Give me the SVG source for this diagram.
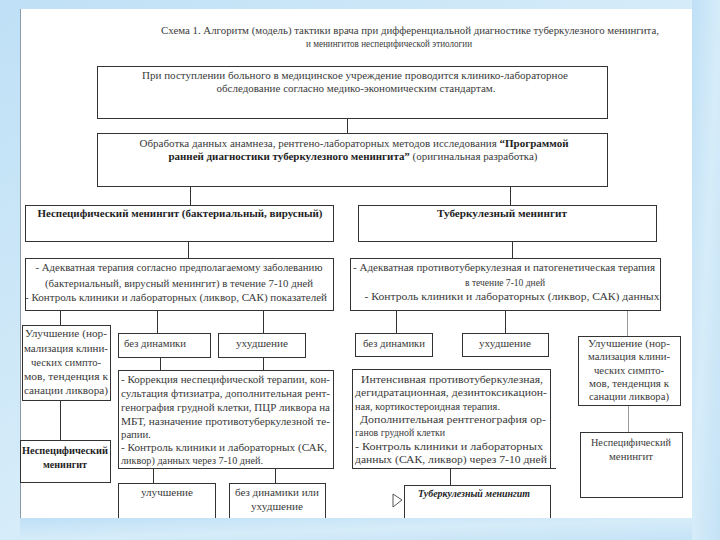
<svg xmlns="http://www.w3.org/2000/svg" width="720" height="540" viewBox="0 0 720 540" font-family="'Liberation Serif', 'DejaVu Serif', 'Times New Roman', serif">
<defs>
<linearGradient id="bg" x1="0" y1="0" x2="1" y2="1">
<stop offset="0" stop-color="#bfe0f6"/>
<stop offset="0.5" stop-color="#d6ecf9"/>
<stop offset="1" stop-color="#c4e2f6"/>
</linearGradient>
<style>
text{font-family:'Liberation Serif','DejaVu Serif','Times New Roman',serif}
.t{font-size:10.5px;fill:#3a3a3a}
.s{font-size:10px;fill:#3a3a3a}
.c{text-anchor:middle}
.b{font-weight:bold;fill:#1e1e1e}
.box{fill:#ffffff;stroke:#333;stroke-width:1}
.ln{stroke:#333;stroke-width:1;fill:none}
.fl{stroke:#999;stroke-width:1;fill:none}
</style>
</defs>
<rect x="0" y="0" width="720" height="540" fill="url(#bg)"/>
<rect x="20" y="9" width="672" height="509" fill="#ffffff"/>
<line x1="20.5" y1="9" x2="20.5" y2="518" stroke="#8a9aa8" stroke-width="1"/>

<g id="title">
<text class="t c" x="410" y="34" textLength="498" lengthAdjust="spacingAndGlyphs">Схема 1. Алгоритм (модель) тактики врача при дифференциальной диагностике туберкулезного менингита,</text>
<text class="t c" x="389" y="47" textLength="166" lengthAdjust="spacingAndGlyphs">и менингитов неспецифической этиологии</text>
</g>

<g id="connectors">
<line class="ln" x1="347.5" y1="118" x2="347.5" y2="133"/>
<line class="ln" x1="190.5" y1="186" x2="190.5" y2="205"/>
<line class="ln" x1="510.5" y1="186" x2="510.5" y2="205"/>
<line class="ln" x1="188.5" y1="242" x2="188.5" y2="258"/>
<line class="ln" x1="512.5" y1="242" x2="512.5" y2="258"/>
<line class="ln" x1="60.5" y1="310" x2="60.5" y2="325"/>
<line class="ln" x1="157.5" y1="310" x2="157.5" y2="333"/>
<line class="ln" x1="263.5" y1="310" x2="263.5" y2="333"/>
<line class="ln" x1="160.5" y1="357" x2="160.5" y2="370"/>
<line class="ln" x1="263.5" y1="357" x2="263.5" y2="370"/>
<line class="ln" x1="60.5" y1="400" x2="60.5" y2="440"/>
<line class="ln" x1="153.5" y1="468" x2="153.5" y2="483"/>
<line class="ln" x1="275.5" y1="468" x2="275.5" y2="483"/>
<line class="ln" x1="396.5" y1="310" x2="396.5" y2="333"/>
<line class="ln" x1="505.5" y1="310" x2="505.5" y2="333"/>
<line class="fl" x1="627.5" y1="310" x2="627.5" y2="336"/>
<line class="ln" x1="450.5" y1="468" x2="450.5" y2="485"/>
<line class="fl" x1="628.5" y1="405" x2="628.5" y2="432"/>
<line class="ln" x1="352" y1="468.5" x2="556" y2="468.5"/>
<polygon points="393,494 402,500 393,507" fill="#fff" stroke="#555" stroke-width="1"/>
</g>

<g id="n1">
<rect class="box" x="97.5" y="66.5" width="510" height="52"/>
<text class="t c" x="355" y="79" textLength="426" lengthAdjust="spacingAndGlyphs">При поступлении больного в медицинское учреждение проводится клинико-лабораторное</text>
<text class="t c" x="356" y="92" textLength="279" lengthAdjust="spacingAndGlyphs">обследование согласно медико-экономическим стандартам.</text>
</g>

<g id="n2">
<rect class="box" x="97.5" y="133.5" width="510" height="53"/>
<text class="t c" x="354" y="147" textLength="429" lengthAdjust="spacingAndGlyphs">Обработка данных анамнеза, рентгено-лабораторных методов исследования <tspan class="b">“Программой</tspan></text>
<text class="t c" x="353" y="160" textLength="369" lengthAdjust="spacingAndGlyphs"><tspan class="b">ранней диагностики туберкулезного менингита”</tspan> (оригинальная разработка)</text>
</g>

<g id="n3">
<rect class="box" x="25.5" y="205.5" width="308" height="36"/>
<text class="t c b" x="180" y="217" textLength="285" lengthAdjust="spacingAndGlyphs">Неспецифический менингит (бактериальный, вирусный)</text>
</g>

<g id="n4">
<rect class="box" x="358.5" y="205.5" width="298" height="36"/>
<text class="t c b" x="502" y="217" textLength="130" lengthAdjust="spacingAndGlyphs">Туберкулезный менингит</text>
</g>

<g id="n5">
<rect class="box" x="25.5" y="258.5" width="308" height="52"/>
<text class="t c" x="179" y="271" textLength="287" lengthAdjust="spacingAndGlyphs">- Адекватная терапия согласно предполагаемому заболеванию</text>
<text class="t c" x="179" y="287" textLength="268" lengthAdjust="spacingAndGlyphs">(бактериальный, вирусный менингит) в течение 7-10 дней</text>
<text class="t c" x="176" y="301" textLength="302" lengthAdjust="spacingAndGlyphs">- Контроль клиники и лабораторных (ликвор, САК) показателей</text>
</g>

<g id="n6">
<rect class="box" x="350.5" y="258.5" width="310" height="52"/>
<text class="t c" x="504" y="271" textLength="302" lengthAdjust="spacingAndGlyphs">- Адекватная противотуберкулезная и патогенетическая терапия</text>
<text class="t c" x="505" y="286" textLength="80" lengthAdjust="spacingAndGlyphs">в течение 7-10 дней</text>
<text class="t c" x="512" y="300" textLength="295" lengthAdjust="spacingAndGlyphs">- Контроль клиники и лабораторных (ликвор, САК) данных</text>
</g>

<g id="n7">
<rect class="box" x="22.5" y="325.5" width="88" height="75"/>
<text class="s c" x="66" y="337" textLength="82" lengthAdjust="spacingAndGlyphs">Улучшение (нор-</text>
<text class="s c" x="66" y="352" textLength="84" lengthAdjust="spacingAndGlyphs">мализация клини-</text>
<text class="s c" x="66" y="366" textLength="70" lengthAdjust="spacingAndGlyphs">ческих симпто-</text>
<text class="s c" x="66" y="380" textLength="84" lengthAdjust="spacingAndGlyphs">мов, тенденция к</text>
<text class="s c" x="66" y="394" textLength="84" lengthAdjust="spacingAndGlyphs">санации ликвора)</text>
</g>

<g id="n8">
<rect class="box" x="118.5" y="333.5" width="92" height="24"/>
<text class="s" x="124" y="347" textLength="62" lengthAdjust="spacingAndGlyphs">без динамики</text>
</g>

<g id="n9">
<rect class="box" x="218.5" y="333.5" width="87" height="24"/>
<text class="s c" x="262" y="347" textLength="52" lengthAdjust="spacingAndGlyphs">ухудшение</text>
</g>

<g id="n10">
<rect class="box" x="118.5" y="370.5" width="215" height="98"/>
<text class="s" x="121" y="383" textLength="209" lengthAdjust="spacingAndGlyphs">- Коррекция неспецифической терапии, кон-</text>
<text class="s" x="121" y="397" textLength="209" lengthAdjust="spacingAndGlyphs">сультация фтизиатра, дополнительная рент-</text>
<text class="s" x="121" y="411" textLength="209" lengthAdjust="spacingAndGlyphs">генография грудной клетки, ПЦР ликвора на</text>
<text class="s" x="121" y="425" textLength="209" lengthAdjust="spacingAndGlyphs">МБТ, назначение противотуберкулезной те-</text>
<text class="s" x="121" y="438" textLength="30" lengthAdjust="spacingAndGlyphs">рапии.</text>
<text class="s" x="121" y="451" textLength="206" lengthAdjust="spacingAndGlyphs">- Контроль клиники и лабораторных (САК,</text>
<text class="s" x="121" y="464" textLength="142" lengthAdjust="spacingAndGlyphs">ликвор) данных через 7-10 дней.</text>
</g>

<g id="n11">
<rect class="box" x="20.5" y="440.5" width="90" height="42"/>
<text class="s c b" x="65" y="454" textLength="86" lengthAdjust="spacingAndGlyphs">Неспецифический</text>
<text class="s c b" x="65" y="468" textLength="44" lengthAdjust="spacingAndGlyphs">менингит</text>
</g>

<g id="n12">
<rect class="box" x="118.5" y="483.5" width="97" height="40"/>
<text class="s c" x="167" y="496" textLength="52" lengthAdjust="spacingAndGlyphs">улучшение</text>
</g>

<g id="n13">
<rect class="box" x="229.5" y="483.5" width="96" height="40"/>
<text class="s c" x="277" y="496" textLength="84" lengthAdjust="spacingAndGlyphs">без динамики или</text>
<text class="s c" x="277" y="510" textLength="52" lengthAdjust="spacingAndGlyphs">ухудшение</text>
</g>

<g id="n14">
<rect class="box" x="355.5" y="333.5" width="77" height="23"/>
<text class="s c" x="394" y="347" textLength="62" lengthAdjust="spacingAndGlyphs">без динамики</text>
</g>

<g id="n15">
<rect class="box" x="462.5" y="333.5" width="86" height="23"/>
<text class="s c" x="505" y="347" textLength="52" lengthAdjust="spacingAndGlyphs">ухудшение</text>
</g>

<g id="n16">
<rect class="box" x="578.5" y="336.5" width="102" height="69"/>
<text class="s c" x="629" y="347" textLength="82" lengthAdjust="spacingAndGlyphs">Улучшение (нор-</text>
<text class="s c" x="629" y="360" textLength="82" lengthAdjust="spacingAndGlyphs">мализация клини-</text>
<text class="s c" x="629" y="374" textLength="70" lengthAdjust="spacingAndGlyphs">ческих симпто-</text>
<text class="s c" x="629" y="387" textLength="80" lengthAdjust="spacingAndGlyphs">мов, тенденция к</text>
<text class="s c" x="629" y="400" textLength="80" lengthAdjust="spacingAndGlyphs">санации ликвора)</text>
</g>

<g id="n17">
<rect class="box" x="352.5" y="369.5" width="198" height="99"/>
<text class="s" x="361" y="383" textLength="182" lengthAdjust="spacingAndGlyphs">Интенсивная противотуберкулезная,</text>
<text class="s" x="355" y="396" textLength="192" lengthAdjust="spacingAndGlyphs">дегидратационная, дезинтоксикацион-</text>
<text class="s" x="355" y="410" textLength="145" lengthAdjust="spacingAndGlyphs">ная, кортикостероидная терапия.</text>
<text class="s" x="360" y="423" textLength="186" lengthAdjust="spacingAndGlyphs">Дополнительная рентгенография ор-</text>
<text class="s" x="355" y="436" textLength="90" lengthAdjust="spacingAndGlyphs">ганов грудной клетки</text>
<text class="s" x="355" y="450" textLength="188" lengthAdjust="spacingAndGlyphs">- Контроль клиники и лабораторных</text>
<text class="s" x="355" y="463" textLength="192" lengthAdjust="spacingAndGlyphs">данных (САК, ликвор) через 7-10 дней</text>
</g>

<g id="n18">
<rect class="box" x="404.5" y="485.5" width="146" height="40"/>
<text class="s c b" x="474" y="497" font-style="italic" textLength="112" lengthAdjust="spacingAndGlyphs">Туберкулезный менингит</text>
</g>

<g id="n19">
<rect class="box" x="580.5" y="432.5" width="102" height="65"/>
<text class="s c" x="631" y="446" textLength="80" lengthAdjust="spacingAndGlyphs">Неспецифический</text>
<text class="s c" x="631" y="460" textLength="44" lengthAdjust="spacingAndGlyphs">менингит</text>
</g>

<rect x="20" y="518" width="700" height="22" fill="url(#bg)"/>
<rect x="692" y="0" width="28" height="540" fill="url(#bg)"/>
</svg>
